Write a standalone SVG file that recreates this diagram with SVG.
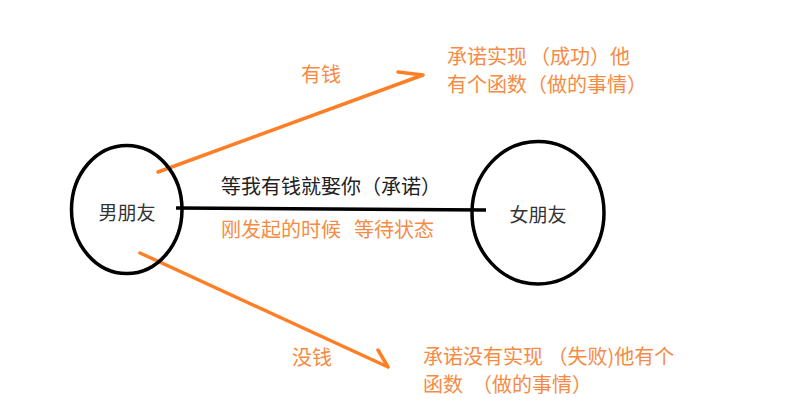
<svg xmlns="http://www.w3.org/2000/svg" width="801" height="418" viewBox="0 0 801 418">
<style>
  .node { fill: none; stroke: #000; stroke-width: 3.5; }
  .dark { font-family: "Noto Sans CJK SC", "Noto Sans", sans-serif; font-size: 20px; fill: #222; }
  .ntext { font-family: "Noto Sans CJK SC", "Noto Sans", sans-serif; font-size: 19px; fill: #333; }
  .or { font-family: "Noto Sans CJK SC", "Noto Sans", sans-serif; font-size: 20px; fill: #F68B45; }
  .edge { fill: none; stroke: #FF7F27; stroke-width: 3.5; stroke-linecap: round; stroke-linejoin: round; }
  .link { fill: none; stroke: #000; stroke-width: 3.5; }
</style>
<rect width="801" height="418" fill="#fff"/>
<g id="connectors">
  <polyline class="link" points="176,208 330,209 486,210"/>
  <path class="edge" d="M158,172 L423,75 M398,72 L423,75"/>
  <path class="edge" d="M140,253 L388,367 M378,350 L388,367"/>
</g>
<g id="boyfriend">
  <ellipse class="node" cx="126.75" cy="209.5" rx="55.25" ry="64"/>
  <text class="ntext" x="127" y="220" text-anchor="middle">男朋友</text>
</g>
<g id="girlfriend">
  <ellipse class="node" cx="538" cy="212.75" rx="66" ry="71.25"/>
  <text class="ntext" x="538" y="222" text-anchor="middle">女朋友</text>
</g>
<g id="labels">
  <text class="dark" x="221" y="194">等我有钱就娶你（承诺）</text>
  <text class="or" x="221" y="237"><tspan>刚发起的时候</tspan><tspan x="354">等待状态</tspan></text>
  <text class="or" x="301" y="82">有钱</text>
  <text class="or" x="292" y="365">没钱</text>
</g>
<g id="success">
  <text class="or" x="447" y="64"><tspan>承诺实现</tspan><tspan x="530">（成功）他</tspan></text>
  <text class="or" x="447" y="92">有个函数（做的事情）</text>
</g>
<g id="failure">
  <text class="or" x="423" y="364">承诺没有实现 （失败)他有个</text>
  <text class="or" x="423" y="392"><tspan>函数</tspan><tspan x="472">（做的事情）</tspan></text>
</g>
</svg>
